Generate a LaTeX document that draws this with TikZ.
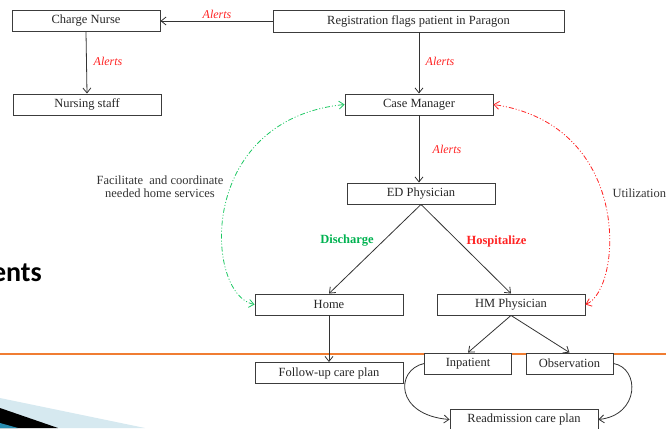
\documentclass[tikz,border=0pt]{standalone}
\usepackage{fontspec}
\setmainfont{Liberation Serif}
\newfontfamily\slidefont{Carlito}
\usetikzlibrary{arrows.meta}
\definecolor{boxgray}{RGB}{60,60,60}
\definecolor{alertred}{RGB}{255,35,35}
\definecolor{dgreen}{RGB}{0,178,80}
\definecolor{lgreen}{RGB}{30,200,100}
\definecolor{orangeline}{RGB}{240,125,50}
\definecolor{swooshblue}{RGB}{214,233,240}
\definecolor{tealblue}{RGB}{40,140,175}
\tikzset{
  box/.style={draw=boxgray, line width=0.9pt, fill=white, inner sep=0pt,
    minimum width=148pt, minimum height=21pt,
    font=\fontsize{12.5}{14}\selectfont, text=black!85},
  smallbox/.style={box, minimum width=87pt},
  tip/.tip={Straight Barb[length=5pt,width=8pt]},
  conn/.style={draw=black!80, line width=0.8pt, -tip},
  alert/.style={text=alertred, inner sep=0pt, font=\fontsize{12}{14}\selectfont\itshape},
  decision/.style={inner sep=0pt, font=\fontsize{12.5}{14}\selectfont\bfseries},
  plainlabel/.style={inner sep=0pt, text=black!80, align=center,
    font=\fontsize{12.5}{13}\selectfont},
  loopline/.style={line width=0.8pt,
    dash pattern=on 5pt off 2pt on 1pt off 2pt on 1pt off 2pt, tip-tip}
}
\begin{document}
\begin{tikzpicture}[x=1pt, y=-1pt]
\useasboundingbox (0,0) rectangle (666,428);
\clip (0,0) rectangle (666,428);
% slide decoration
\fill[swooshblue] (0,398) -- (145,428) -- (0,428) -- cycle;
\fill[black] (0,408) -- (58,428) -- (0,428) -- cycle;
\fill[tealblue] (0,423) -- (18,428) -- (0,428) -- cycle;
\node[anchor=base east, inner sep=0pt, font=\slidefont\bfseries\fontsize{28}{30}\selectfont] (title) at (42,281) {ents};
\draw[orangeline, line width=1.3pt] (0,354) -- (666,354);
% boxes
\node[box] (cn) at (86,21) {Charge Nurse};
\node[box] (ns) at (87,104.5) {Nursing staff};
\node[box, minimum width=291pt, minimum height=22pt] (reg) at (418.5,21) {Registration flags patient in Paragon};
\node[box] (cm) at (419,104.5) {Case Manager};
\node[box] (ed) at (421,193.5) {ED Physician};
\node[box] (home) at (329,304.5) {Home};
\node[box] (hm) at (511,304.5) {HM Physician};
\node[box] (fu) at (329,373) {Follow-up care plan};
\node[smallbox] (inp) at (468,363.5) {Inpatient};
\node[smallbox] (obs) at (569.5,363.5) {Observation};
\node[box] (read) at (524,419.5) {Readmission care plan};
% connectors
\draw[conn] (reg.west) -- (cn.east);
\draw[conn] (cn.south) -- (ns.north);
\draw[conn] (reg.south -| cm.north) -- (cm.north);
\draw[conn] (cm.south) -- (cm.south |- ed.north);
\draw[conn] (ed.south) -- (home.north);
\draw[conn] (ed.south) -- (hm.north);
\draw[conn] (hm.south) -- (inp.north);
\draw[conn] (hm.south) -- (obs.north);
\draw[conn] (home.south) -- (fu.north);
\draw[conn] (inp.west) .. controls (395,370) and (395,415) .. (read.west);
\draw[conn] (obs.east) .. controls (640,368) and (640,415) .. (read.east);
\draw[loopline, draw=lgreen] (home.west) .. controls (205,295) and (195,120) .. (cm.west);
\draw[loopline, draw=alertred] (hm.east) .. controls (622,290) and (634,125) .. (cm.east);
% labels
\node[alert] (a1) at (217,14) {Alerts};
\node[alert] (a2) at (108,61) {Alerts};
\node[alert] (a3) at (440,61) {Alerts};
\node[alert] (a4) at (447,149) {Alerts};
\node[decision, text=dgreen] (dis) at (347,241) {Discharge};
\node[decision, text=alertred] (hos) at (496.5,241) {Hospitalize};
\node[plainlabel] (fac) at (160,186.5) {Facilitate\ \ and coordinate\\needed home services};
\node[plainlabel, anchor=west] (util) at (612.5,193) {Utilization};
\end{tikzpicture}
\end{document}
